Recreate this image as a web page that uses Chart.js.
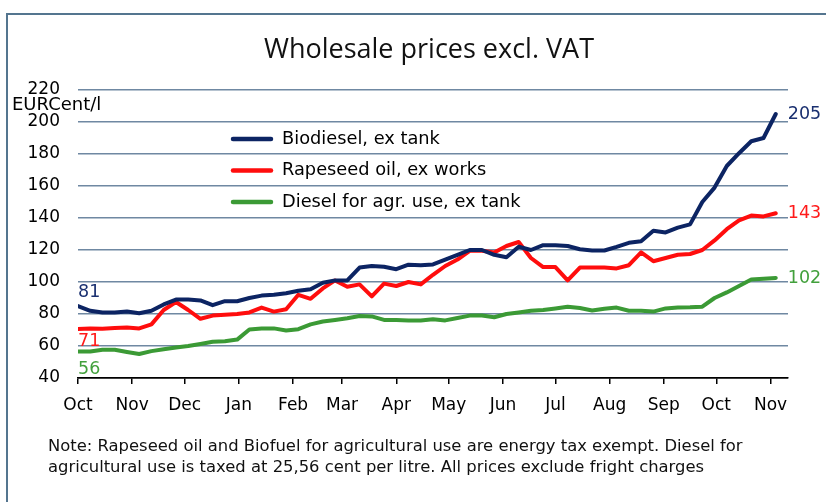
<!DOCTYPE html>
<html><head><meta charset="utf-8">
<script src="https://cdn.jsdelivr.net/npm/chart.js@4.4.1/dist/chart.umd.min.js"></script>
<style>html,body{margin:0;padding:0;background:#fff;}#wrap{position:relative;width:826px;height:502px;}</style>
</head><body><div id="wrap"><canvas id="c" width="826" height="502"></canvas></div>
<script>
const titleText = 'Wholesale prices excl. VAT';
const unitText = 'EURCent/l';
const seriesNames = ['Biodiesel, ex tank', 'Rapeseed oil, ex works', 'Diesel for agr. use, ex tank'];
const seriesColors = ['#0c2463', '#ff0d0d', '#3b9a35'];
const labelColors = ['#1a3070', '#ff1a1a', '#42a03c'];
// weekly observations, from early October to early November the following year
const biodiesel = [85,82,81,81,81.5,80.5,82,86,89,89,88.5,85.5,88,88,90,91.5,92,93,94.5,95.5,99.5,101,101,109,110,109.5,108,110.8,110.5,111,114,117,120,120,117,115.5,122,120,123,123,122.5,120.5,119.7,119.7,122,124.5,125.5,132,131,134,136,150,159,172.5,180.5,188,190,205];
const rapeseed = [70.7,71,70.8,71.3,71.5,71,73.5,82.5,87.5,82.5,77,79,79.5,80,81,84,81.5,83,92,89.5,96,101,97,98.5,91,99,97.5,100,98.5,104.5,110,114,119.5,119.5,118.5,122.5,125,115,109.3,109.3,101,109,109,109,108.5,110.5,118.5,113,115,117,117.5,120,126,133,138.5,141.5,141,143];
const diesel = [56.5,56.5,57.7,57.7,56.3,55,56.8,58,59,60,61.3,62.7,63,64,70.3,71,71,69.7,70.5,73.5,75.3,76.3,77.3,78.8,78.5,76.3,76.2,76,76,76.7,76,77.5,79,79,78,80,81,82,82.5,83.5,84.5,83.7,82.2,83.3,84,82,82,81.5,83.5,84,84.2,84.6,90,93.5,97.5,101.5,102,102.5];
const startLabels = [81, 71, 56];
const endLabels = [205, 143, 102];
const monthLabels = ['Oct','Nov','Dec','Jan','Feb','Mar','Apr','May','Jun','Jul','Aug','Sep','Oct','Nov'];
const monthDayOffsets = [0,31,61,92,123,151,182,212,243,273,304,335,365,396];
const noteLines = [
  'Note: Rapeseed oil and Biofuel for agricultural use are energy tax exempt. Diesel for',
  'agricultural use is taxed at 25,56 cent per litre. All prices exclude fright charges'
];

const allSeries = [biodiesel, rapeseed, diesel];
const toPoints = arr => arr.map((v, i) => ({x: i * 7, y: v}));

const FONT = '"DejaVu Sans", sans-serif';

const decor = {
  id: 'decor',
  beforeDraw(chart) {
    const ctx = chart.ctx;
    ctx.save();
    ctx.strokeStyle = '#54758f';
    ctx.lineWidth = 2;
    ctx.beginPath();
    ctx.moveTo(7, 502); ctx.lineTo(7, 14); ctx.lineTo(826, 14);
    ctx.stroke();
    ctx.restore();
  },
  afterDraw(chart) {
    const ctx = chart.ctx;
    const xs = chart.scales.x, ys = chart.scales.y;
    ctx.save();
    ctx.fillStyle = '#111';
    ctx.textBaseline = 'middle';
    ctx.textAlign = 'center';
    ctx.font = '27px "Open Sans", sans-serif';
    ctx.fillText(titleText, 429, 50);
    ctx.textAlign = 'left';
    ctx.font = '18px ' + FONT;
    ctx.fillStyle = '#000';
    ctx.fillText(unitText, 12, 105);
    // legend
    chart.data.datasets.forEach((ds, k) => {
      const y = 139 + k * 31.5;
      ctx.strokeStyle = ds.borderColor;
      ctx.lineWidth = 4.5;
      ctx.lineCap = 'round';
      ctx.beginPath(); ctx.moveTo(233, y); ctx.lineTo(271, y); ctx.stroke();
      ctx.fillStyle = '#000';
      ctx.font = '17.8px ' + FONT;
      ctx.fillText(ds.label, 282, y);
    });
    // start and end value labels
    const startOffsets = [-14, 13, 18];
    allSeries.forEach((arr, k) => {
      ctx.fillStyle = labelColors[k];
      ctx.font = '17.5px ' + FONT;
      ctx.textAlign = 'left';
      const y0 = ys.getPixelForValue(arr[0]) + startOffsets[k];
      ctx.fillText(String(startLabels[k]), xs.getPixelForValue(0), y0);
      const last = arr.length - 1;
      const xe = xs.getPixelForValue(last * 7) + 12;
      const ye = ys.getPixelForValue(arr[last]);
      ctx.fillText(String(endLabels[k]), xe, ye);
    });
    // note
    ctx.fillStyle = '#111';
    ctx.font = '16.4px ' + FONT;
    ctx.textAlign = 'left';
    ctx.fillText(noteLines[0], 48, 447);
    ctx.fillText(noteLines[1], 48, 468);
    ctx.restore();
  }
};

new Chart(document.getElementById('c'), {
  type: 'line',
  data: {
    datasets: allSeries.map((arr, k) => ({
      label: seriesNames[k],
      data: toPoints(arr),
      borderColor: seriesColors[k],
      backgroundColor: seriesColors[k],
      borderWidth: 4,
      pointRadius: 0,
      tension: 0,
      borderJoinStyle: 'round',
      borderCapStyle: 'round',
      fill: false
    }))
  },
  options: {
    responsive: false,
    animation: false,
    devicePixelRatio: 1,
    layout: {padding: {left: 0, right: 38, top: 90, bottom: 0}},
    plugins: {legend: {display: false}, title: {display: false}, tooltip: {enabled: false}},
    scales: {
      x: {
        type: 'linear', min: 0, max: 406,
        afterBuildTicks(s) { s.ticks = monthDayOffsets.map(v => ({value: v})); },
        afterFit(s) { s.height = 124; },
        ticks: {autoSkip: false, maxRotation: 0, minRotation: 0, color: '#000', padding: 11,
          font: {family: 'DejaVu Sans', size: 17}, callback: (v, i) => monthLabels[i]},
        grid: {drawOnChartArea: false, drawTicks: true, tickLength: 6, color: '#000', lineWidth: 1.5},
        border: {display: true, color: '#000', width: 1.5}
      },
      y: {
        min: 40, max: 220,
        afterFit(s) { s.width = 78; },
        ticks: {stepSize: 20, color: '#000', padding: 18, font: {family: 'DejaVu Sans', size: 17}},
        grid: {drawTicks: false, lineWidth: 1.5, color: c => (c.tick && c.tick.value === 40) ? '#000' : '#6f88a2'},
        border: {display: false}
      }
    }
  },
  plugins: [decor]
});
</script>
</body></html>
